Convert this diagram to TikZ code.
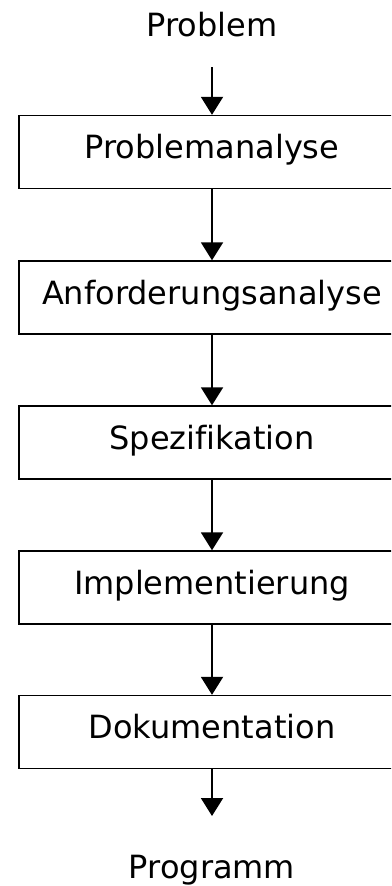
\documentclass[tikz,border=0pt]{standalone}
\usepackage{fontspec}
\setmainfont[Ligatures=NoCommon]{DejaVu Sans}
\usetikzlibrary{arrows.meta}

\tikzset{
  stage/.style={draw, line width=1.4pt, minimum width=386pt, minimum height=73pt,
    inner sep=0pt, text height=23pt, text depth=10pt,
    font=\fontsize{32}{38}\selectfont},
  endtext/.style={anchor=base, inner sep=0pt, font=\fontsize{32}{38}\selectfont},
  flow/.style={line width=2pt, -{Triangle[width=22pt,length=18pt]}}
}

\begin{document}
\begin{tikzpicture}[x=1pt,y=-1pt]
    \useasboundingbox (0,0) rectangle (391,886);
    \clip (0,0) rectangle (391,886);

    \node[endtext] (problem) at (212,36.5) {Problem};
    \coordinate (start) at (212,67);

    \node[stage] (analyse) at (212,152) {Problemanalyse};
    \node[stage] (anford) at (212,297.5) {Anforderungsanalyse};
    \node[stage] (spez) at (212,442.5) {Spezifikation};
    \node[stage] (impl) at (212,587.5) {Implementierung};
    \node[stage] (doku) at (212,732) {Dokumentation};

    \coordinate (stop) at (212,816);
    \node[endtext] (programm) at (212,878) {Programm};

    \draw[flow] (start) -- (analyse.north);
    \draw[flow] (analyse) -- (anford);
    \draw[flow] (anford) -- (spez);
    \draw[flow] (spez) -- (impl);
    \draw[flow] (impl) -- (doku);
    \draw[flow] (doku.south) -- (stop);
\end{tikzpicture}
\end{document}
